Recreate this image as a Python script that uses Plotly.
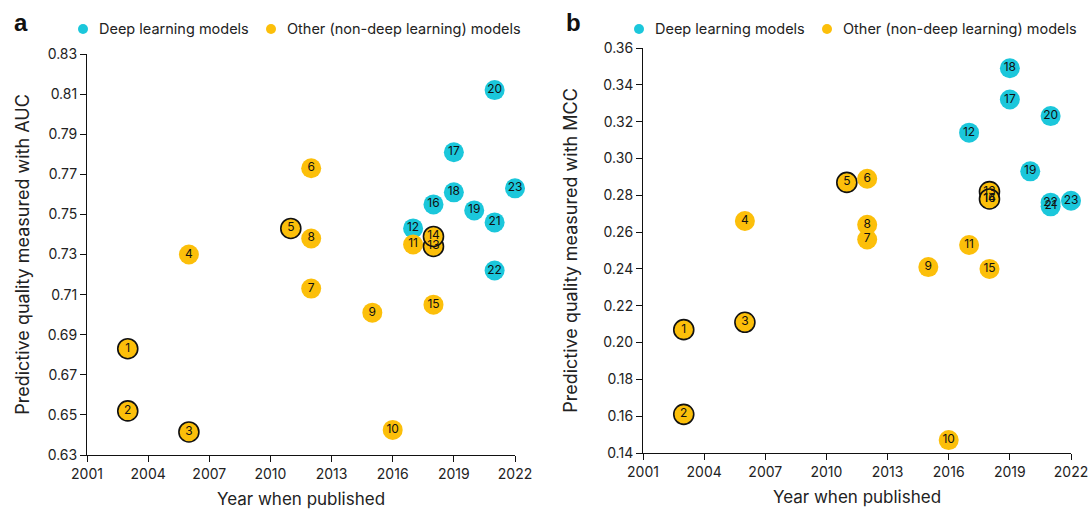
import plotly.graph_objects as go

model_ids = list(range(1, 24))
years = [2003, 2003, 2006, 2006, 2011, 2012, 2012, 2012, 2015, 2016, 2017, 2017,
         2018, 2018, 2018, 2018, 2019, 2019, 2020, 2021, 2021, 2021, 2022]
auc = [0.683, 0.652, 0.6415, 0.730, 0.743, 0.773, 0.713, 0.738, 0.701, 0.6425, 0.735, 0.743,
       0.734, 0.739, 0.705, 0.755, 0.781, 0.761, 0.752, 0.812, 0.746, 0.722, 0.763]
mcc = [0.207, 0.161, 0.211, 0.266, 0.287, 0.289, 0.256, 0.264, 0.241, 0.147, 0.253, 0.314,
       0.282, 0.278, 0.240, 0.278, 0.332, 0.349, 0.293, 0.323, 0.274, 0.276, 0.277]
deep_models = [12, 16, 17, 18, 19, 20, 21, 22, 23]
outlined_models = [1, 2, 3, 5, 13, 14]

legend_names = ["Deep learning models", "Other (non-deep learning) models"]
x_ticks = [2001, 2004, 2007, 2010, 2013, 2016, 2019, 2022]
auc_ticks = [0.63, 0.65, 0.67, 0.69, 0.71, 0.73, 0.75, 0.77, 0.79, 0.81, 0.83]
mcc_ticks = [0.14, 0.16, 0.18, 0.20, 0.22, 0.24, 0.26, 0.28, 0.30, 0.32, 0.34, 0.36]

CYAN = "#1BC7DB"
ORANGE = "#FCBF0A"
FONT = "Inter"

fig = go.Figure()

for vals, xa, ya in [(auc, "x", "y"), (mcc, "x2", "y2")]:
    # markers: deep-learning group first, then other models on top
    for is_deep, col in [(True, CYAN), (False, ORANGE)]:
        idx = [i for i in range(23) if (model_ids[i] in deep_models) == is_deep]
        fig.add_trace(go.Scatter(
            x=[years[i] for i in idx], y=[vals[i] for i in idx], xaxis=xa, yaxis=ya,
            mode="markers",
            marker=dict(size=20, color=col,
                        line=dict(width=[1.6 if model_ids[i] in outlined_models else 0
                                         for i in idx], color="#111")),
            showlegend=False, hoverinfo="skip", cliponaxis=False))
    # number labels on top of all markers
    fig.add_trace(go.Scatter(
        x=years, y=vals, xaxis=xa, yaxis=ya, mode="text",
        text=[str(m) for m in model_ids], textposition="middle center",
        textfont=dict(family=FONT, size=12, color="#111"),
        showlegend=False, hoverinfo="skip", cliponaxis=False))

W, H = 1088, 509
axis_common = dict(showline=True, linecolor="#111", linewidth=1, ticks="outside",
                   ticklen=6, tickcolor="#111", tickwidth=1, showgrid=False, zeroline=False,
                   automargin=False, ticklabeloverflow="allow",
                   tickfont=dict(family=FONT, size=14, color="#222"))

# manual legends (marker circle + text) for each panel
shapes = []
annotations = []
legend_y = 29
for off in [0, 556]:
    for (mx, tx), name, col in zip([(83, 97), (271, 285)], legend_names, [CYAN, ORANGE]):
        cx = mx + off
        shapes.append(dict(type="circle", xref="paper", yref="paper",
                           x0=(cx - 5) / W, x1=(cx + 5) / W,
                           y0=1 - (legend_y + 5) / H, y1=1 - (legend_y - 5) / H,
                           fillcolor=col, line=dict(width=0)))
        annotations.append(dict(text=name, x=(tx + off) / W, y=1 - legend_y / H,
                                xref="paper", yref="paper", xanchor="left", yanchor="middle",
                                showarrow=False,
                                font=dict(family=FONT, size=14.5, color="#222")))

for letter, lx in [("a", 12), ("b", 564)]:
    annotations.append(dict(text=f"<b>{letter}</b>", x=lx / W, y=1 - 22 / H,
                            xref="paper", yref="paper", xanchor="left", yanchor="middle",
                            showarrow=False,
                            font=dict(family="Liberation Sans", size=24, color="#111")))

fig.update_layout(
    width=W, height=H, margin=dict(l=0, r=0, t=0, b=0, autoexpand=False),
    plot_bgcolor="white", paper_bgcolor="white",
    font=dict(family=FONT, color="#222"),
    showlegend=False,
    xaxis=dict(domain=[87 / W, 515 / W], range=[2001, 2022], tickvals=x_ticks,
               title=dict(text="Year when published", font=dict(size=17), standoff=12),
               anchor="y", **axis_common),
    yaxis=dict(domain=[1 - 455 / H, 1 - 54 / H], range=[0.63, 0.83], tickvals=auc_ticks,
               tickformat=".2f",
               title=dict(text="Predictive quality measured with AUC", font=dict(size=18), standoff=13),
               anchor="x", **axis_common),
    xaxis2=dict(domain=[643 / W, 1071 / W], range=[2001, 2022], tickvals=x_ticks,
                title=dict(text="Year when published", font=dict(size=17), standoff=12),
                anchor="y2", **axis_common),
    yaxis2=dict(domain=[1 - 453 / H, 1 - 48 / H], range=[0.14, 0.36], tickvals=mcc_ticks,
                tickformat=".2f",
                title=dict(text="Predictive quality measured with MCC", font=dict(size=18), standoff=21),
                anchor="x2", **axis_common),
    shapes=shapes,
    annotations=annotations,
)

fig.write_html("out.html")
